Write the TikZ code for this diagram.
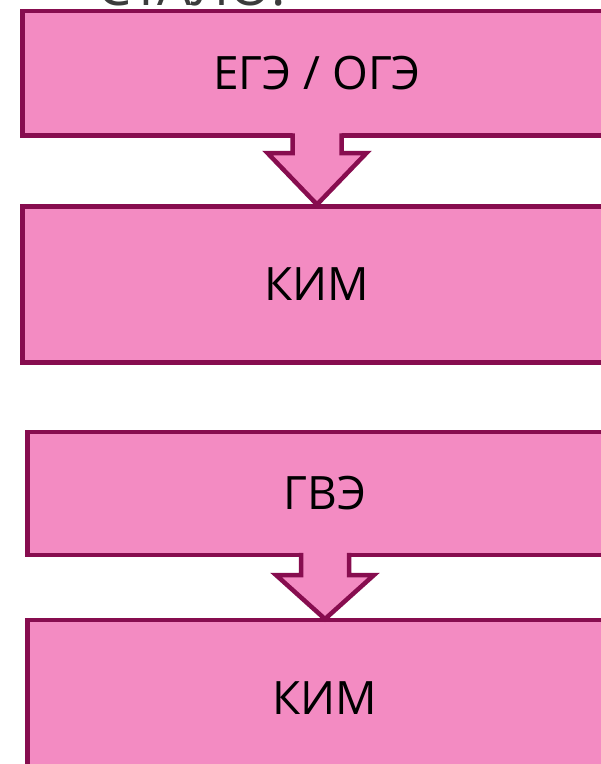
\documentclass[tikz,border=0pt]{standalone}
\usepackage{fontspec}
\setmainfont{Open Sans}
\usetikzlibrary{calc}
\definecolor{boxfill}{HTML}{F38BC2}
\definecolor{boxline}{HTML}{870D4F}
\definecolor{titlegrey}{HTML}{3C3C3C}
\begin{document}
\begin{tikzpicture}[x=1pt,y=-1pt,
  flowbox/.style={draw=boxline, fill=boxfill, line width=4.5pt, inner sep=0pt, outer sep=0pt,
    font=\fontsize{46}{52}\selectfont, text=black},
  arrowfill/.style={fill=boxfill},
  arrowline/.style={draw=boxline, line width=4.5pt, line join=miter}]
\useasboundingbox (0,0) rectangle (601,764);
\clip (0,0) rectangle (601,764);
% partly visible title
\node[anchor=base west, inner sep=0pt, text=titlegrey, font=\fontsize{54}{60}\selectfont] (title) at (97,5) {СТАЛО:};
% boxes
\node[flowbox, minimum width=589pt, minimum height=124.5pt] (b1) at (317,73.25) {ЕГЭ / ОГЭ};
\node[flowbox, minimum width=589pt, minimum height=156pt] (b2) at (317,284.5) {КИМ};
\node[flowbox, minimum width=595pt, minimum height=123pt] (b3) at (325,493.5) {ГВЭ};
\node[flowbox, minimum width=595pt, minimum height=156pt] (b4) at (325,698) {КИМ};
% arrow 1
\fill[arrowfill] ($(b1.south)+(-24.5,-4)$) -- ($(b1.south)+(-24.5,17.5)$) -- ($(b1.south)+(-49.5,17.5)$) -- ($(b2.north)+(0,-2)$)
  -- ($(b1.south)+(49.5,17.5)$) -- ($(b1.south)+(24.5,17.5)$) -- ($(b1.south)+(24.5,-4)$) -- cycle;
\draw[arrowline] ($(b1.south)+(-24.5,-2.25)$) -- ($(b1.south)+(-24.5,17.5)$) -- ($(b1.south)+(-49.5,17.5)$) -- ($(b2.north)+(0,-2)$)
  -- ($(b1.south)+(49.5,17.5)$) -- ($(b1.south)+(24.5,17.5)$) -- ($(b1.south)+(24.5,-2.25)$);
% arrow 2
\fill[arrowfill] ($(b3.south)+(-24,-4)$) -- ($(b3.south)+(-24,20)$) -- ($(b3.south)+(-49,20)$) -- ($(b4.north)+(0,-1)$)
  -- ($(b3.south)+(49,20)$) -- ($(b3.south)+(24,20)$) -- ($(b3.south)+(24,-4)$) -- cycle;
\draw[arrowline] ($(b3.south)+(-24,-2.25)$) -- ($(b3.south)+(-24,20)$) -- ($(b3.south)+(-49,20)$) -- ($(b4.north)+(0,-1)$)
  -- ($(b3.south)+(49,20)$) -- ($(b3.south)+(24,20)$) -- ($(b3.south)+(24,-2.25)$);
\end{tikzpicture}
\end{document}
